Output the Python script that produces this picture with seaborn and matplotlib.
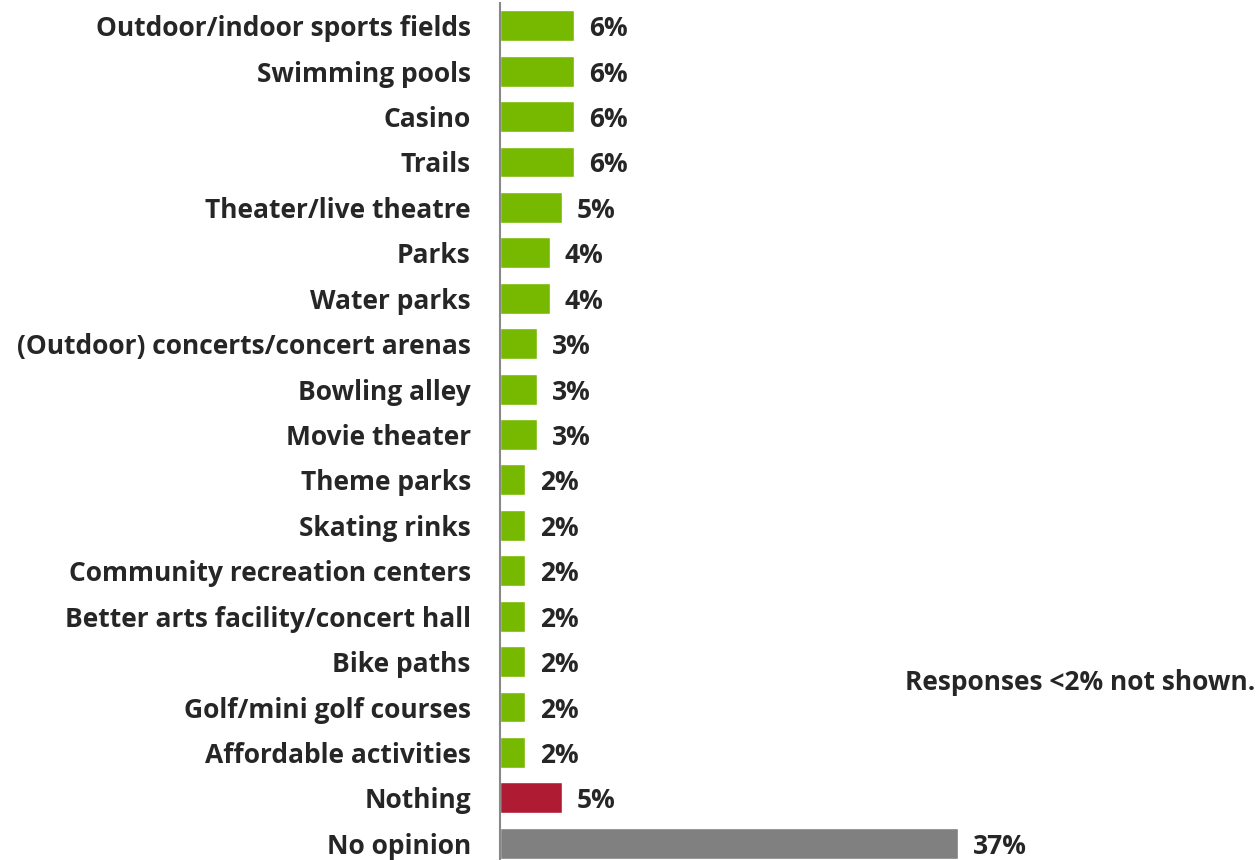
import matplotlib
matplotlib.use("Agg")
import matplotlib.pyplot as plt
import seaborn as sns
import pandas as pd

categories = ["Outdoor/indoor sports fields", "Swimming pools", "Casino", "Trails",
              "Theater/live theatre", "Parks", "Water parks",
              "(Outdoor) concerts/concert arenas", "Bowling alley", "Movie theater",
              "Theme parks", "Skating rinks", "Community recreation centers",
              "Better arts facility/concert hall", "Bike paths", "Golf/mini golf courses",
              "Affordable activities", "Nothing", "No opinion"]
values = [6, 6, 6, 6, 5, 4, 4, 3, 3, 3, 2, 2, 2, 2, 2, 2, 2, 5, 37]
groups = ["item"] * 17 + ["nothing", "noopinion"]
palette = {"item": "#76B900", "nothing": "#B01B34", "noopinion": "#808080"}
note = "Responses <2% not shown."

sns.set_theme(style="white")
plt.rcParams['font.family'] = ['Open Sans', 'DejaVu Sans']

df = pd.DataFrame({"cat": categories, "val": values, "grp": groups})

fig = plt.figure(figsize=(12.59, 8.6), dpi=100)
ax = fig.add_axes([500/1259, -6/860, 759/1259, 863/860])
sns.barplot(data=df, y="cat", x="val", hue="grp", palette=palette, dodge=False,
            saturation=1, width=0.68, legend=False, ax=ax, order=categories)
ax.set_xlim(0, 759/12.38)
ax.set_ylim(len(categories) - 0.5, -0.5)
ax.set_xlabel("")
ax.set_ylabel("")
ax.set_xticks([])
for s in ["top", "right", "bottom"]:
    ax.spines[s].set_visible(False)
ax.spines["left"].set_color("#888888")
ax.spines["left"].set_linewidth(1.5)
ax.tick_params(axis="y", length=0, pad=21)
for lbl in ax.get_yticklabels():
    lbl.set_fontweight("bold")
    lbl.set_fontsize(19)
    lbl.set_color("#262626")
for i, v in enumerate(values):
    ax.annotate(f"{v}%", xy=(v, i), xytext=(11, 0), textcoords="offset points",
                va="center_baseline", ha="left", fontsize=19, fontweight="bold",
                color="#262626")
fig.text(0.997, 1 - 680/860, note, ha="right", va="center_baseline", fontsize=19,
         fontweight="bold", color="#262626")
fig.savefig("out.png", dpi=100)
